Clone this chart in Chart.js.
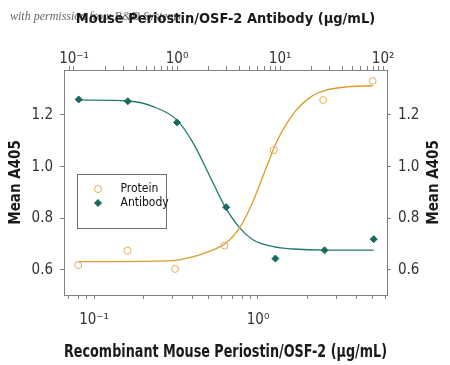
<!DOCTYPE html>
<html>
<head>
<meta charset="utf-8">
<script src="https://cdn.jsdelivr.net/npm/chart.js@4.4.0/dist/chart.umd.min.js"></script>
<style>
  html, body { margin: 0; padding: 0; background: #fff; }
</style>
</head>
<body>
<canvas id="myChart" width="450" height="365"></canvas>
<script>
// measured points (A405), protein on bottom axis, antibody on top axis
const proteinDose = [0.08, 0.16, 0.3125, 0.625, 1.25, 2.5, 5];
const proteinA405 = [0.619, 0.675, 0.604, 0.694, 1.064, 1.258, 1.332];
const antibodyDose = [0.111, 0.333, 1, 3, 9, 27, 81];
const antibodyA405 = [1.260, 1.253, 1.171, 0.843, 0.644, 0.676, 0.719];

// fitted curves
const proteinFitDose = [0.08, 0.3, 0.4, 0.5, 0.625, 0.78, 0.94, 1.13, 1.3, 1.65, 2.1, 2.6, 3.5, 5];
const proteinFitA405 = [0.632, 0.636, 0.651, 0.671, 0.70, 0.767, 0.871, 1.0, 1.096, 1.206, 1.270, 1.296, 1.309, 1.313];
const antibodyFitDose = [0.111, 0.34, 0.59, 1, 1.44, 2.09, 2.92, 4.09, 5.5, 8.6, 13.5, 27, 81];
const antibodyFitA405 = [1.258, 1.254, 1.232, 1.180, 1.090, 0.961, 0.845, 0.761, 0.716, 0.690, 0.681, 0.677, 0.677];

const yTicks = [0.6, 0.8, 1.0, 1.2];
const seriesNames = ["Protein", "Antibody"];

const fontFamily = "'Liberation Sans Narrow', 'DejaVu Sans Condensed', sans-serif";
const axisColor = "#808080";
const orange = "#dc9c2c";
const teal = "#22776d";

const toPoints = (xs, ys) => xs.map((x, i) => ({ x: x, y: ys[i] }));

const sup = { "-": "⁻", "0": "⁰", "1": "¹", "2": "²", "3": "³" };
function powerLabel(value) {
  const e = Math.log10(value);
  if (Math.abs(e - Math.round(e)) > 1e-6) return "";
  return "10" + String(Math.round(e)).split("").map(c => sup[c]).join("");
}

// 1..9 x 10^n ticks only
function logTicks(scale) {
  const ticks = [];
  for (let e = Math.floor(Math.log10(scale.min)); e <= Math.ceil(Math.log10(scale.max)); e++) {
    for (let m = 1; m < 10; m++) {
      const v = m * Math.pow(10, e);
      if (v > scale.min && v < scale.max) ticks.push({ value: v, major: m === 1 });
    }
  }
  scale.ticks = ticks;
}

const tickFont = { family: fontFamily, size: 15 };

function axisBase() {
  return {
    grid: { drawOnChartArea: false, tickLength: 4, color: axisColor },
    border: { color: axisColor },
  };
}

const watermark = {
  id: "watermark",
  beforeDraw(chart) {
    const ctx = chart.ctx;
    ctx.save();
    ctx.fillStyle = "#666";
    ctx.font = "italic 12px 'Liberation Serif', serif";
    ctx.textBaseline = "alphabetic";
    ctx.fillText("with permission from R&D Systems", 10, 20);
    ctx.restore();
  },
};

const extras = {
  id: "extras",
  afterDraw(chart) {
    const ctx = chart.ctx;
    const area = chart.chartArea;
    ctx.save();
    // right axis title, same direction as the left one
    ctx.translate(434, (area.top + area.bottom) / 2);
    ctx.rotate(-Math.PI / 2);
    ctx.font = "bold 15px " + fontFamily;
    ctx.fillStyle = "#1a1a1a";
    ctx.textAlign = "center";
    ctx.textBaseline = "middle";
    ctx.fillText("Mean A405", 0, 0);
    ctx.restore();

    // legend box inside the plot
    const bx = area.left + 13.5, by = 174.5;
    ctx.save();
    ctx.fillStyle = "#fff";
    ctx.fillRect(bx, by, 89, 54);
    ctx.strokeStyle = "#707070";
    ctx.lineWidth = 1;
    ctx.strokeRect(bx, by, 89, 54);
    ctx.font = "12px " + fontFamily;
    ctx.textBaseline = "middle";
    [0, 1].forEach((dsIndex) => {
      const ds = chart.data.datasets[dsIndex];
      const y = by + 14.5 + dsIndex * 14;
      ctx.strokeStyle = ds.pointBorderColor;
      ctx.fillStyle = ds.pointBackgroundColor;
      ctx.lineWidth = ds.pointBorderWidth;
      Chart.helpers.drawPoint(ctx, { pointStyle: ds.pointStyle, radius: ds.pointRadius, borderWidth: ds.pointBorderWidth, rotation: 0 }, bx + 20.5, y);
      ctx.fillStyle = "#111";
      ctx.fillText(seriesNames[dsIndex], bx + 43, y);
    });
    ctx.restore();
  },
};

const config = {
  type: "scatter",
  data: {
    datasets: [
      {
        label: seriesNames[0],
        data: toPoints(proteinDose, proteinA405),
        xAxisID: "x",
        yAxisID: "y",
        pointStyle: "circle",
        pointRadius: 3.5,
        pointBorderWidth: 1,
        pointBorderColor: "#e4ad55",
        pointBackgroundColor: "rgba(255,255,255,0)",
        showLine: false,
        order: 0,
      },
      {
        label: seriesNames[1],
        data: toPoints(antibodyDose, antibodyA405),
        xAxisID: "x2",
        yAxisID: "y",
        pointStyle: "rectRot",
        pointRadius: 3.5,
        pointBorderWidth: 1,
        pointBorderColor: "#166a5f",
        pointBackgroundColor: "#166a5f",
        showLine: false,
        order: 0,
      },
      {
        label: "Protein fit",
        data: toPoints(proteinFitDose, proteinFitA405),
        xAxisID: "x",
        yAxisID: "y",
        showLine: true,
        pointRadius: 0,
        borderColor: orange,
        borderWidth: 1.3,
        cubicInterpolationMode: "monotone",
        order: 1,
      },
      {
        label: "Antibody fit",
        data: toPoints(antibodyFitDose, antibodyFitA405),
        xAxisID: "x2",
        yAxisID: "y",
        showLine: true,
        pointRadius: 0,
        borderColor: teal,
        borderWidth: 1.3,
        cubicInterpolationMode: "monotone",
        order: 1,
      },
    ],
  },
  options: {
    responsive: false,
    animation: false,
    layout: { padding: 0 },
    plugins: { legend: { display: false }, tooltip: { enabled: false } },
    scales: {
      x: Object.assign(axisBase(), {
        type: "logarithmic",
        position: "bottom",
        min: 0.0656,
        max: 6.12,
        afterBuildTicks: logTicks,
        afterFit: (s) => { s.height = 70; },
        ticks: { autoSkip: false, maxRotation: 0, padding: 12, color: "#333", font: tickFont, callback: powerLabel },
        title: { display: true, text: "Recombinant Mouse Periostin/OSF-2 (μg/mL)", color: "#1a1a1a", font: { family: fontFamily, size: 18, weight: "bold", lineHeight: 1.2 }, padding: { top: 0, bottom: 2 } },
      }),
      x2: Object.assign(axisBase(), {
        type: "logarithmic",
        position: "top",
        min: 0.080,
        max: 109,
        afterBuildTicks: logTicks,
        afterFit: (s) => { s.height = 70; },
        ticks: { autoSkip: false, maxRotation: 0, padding: -2, color: "#333", font: tickFont, callback: powerLabel },
        title: { display: true, text: "Mouse Periostin/OSF-2 Antibody (μg/mL)", color: "#1a1a1a", font: { family: fontFamily, size: 14.5, weight: "bold", lineHeight: 1.2 }, padding: { top: 11, bottom: 0 } },
      }),
      y: Object.assign(axisBase(), {
        type: "linear",
        position: "left",
        min: 0.503,
        max: 1.374,
        afterBuildTicks: (s) => { s.ticks = yTicks.map(v => ({ value: v })); },
        afterFit: (s) => { s.width = 64; },
        ticks: { padding: 7, color: "#333", font: tickFont, callback: (v) => v.toFixed(1) },
        title: { display: true, text: "Mean A405", color: "#1a1a1a", font: { family: fontFamily, size: 15, weight: "bold", lineHeight: 1.2 }, padding: { top: 7, bottom: 0 } },
      }),
      y2: Object.assign(axisBase(), {
        type: "linear",
        position: "right",
        min: 0.503,
        max: 1.374,
        afterBuildTicks: (s) => { s.ticks = yTicks.map(v => ({ value: v })); },
        afterFit: (s) => { s.width = 63; },
        ticks: { padding: 7, color: "#333", font: tickFont, callback: (v) => v.toFixed(1) },
      }),
    },
  },
  plugins: [watermark, extras],
};

const ctx1 = document.getElementById("myChart");
const chart1 = new Chart(ctx1, config);
</script>
</body>
</html>
